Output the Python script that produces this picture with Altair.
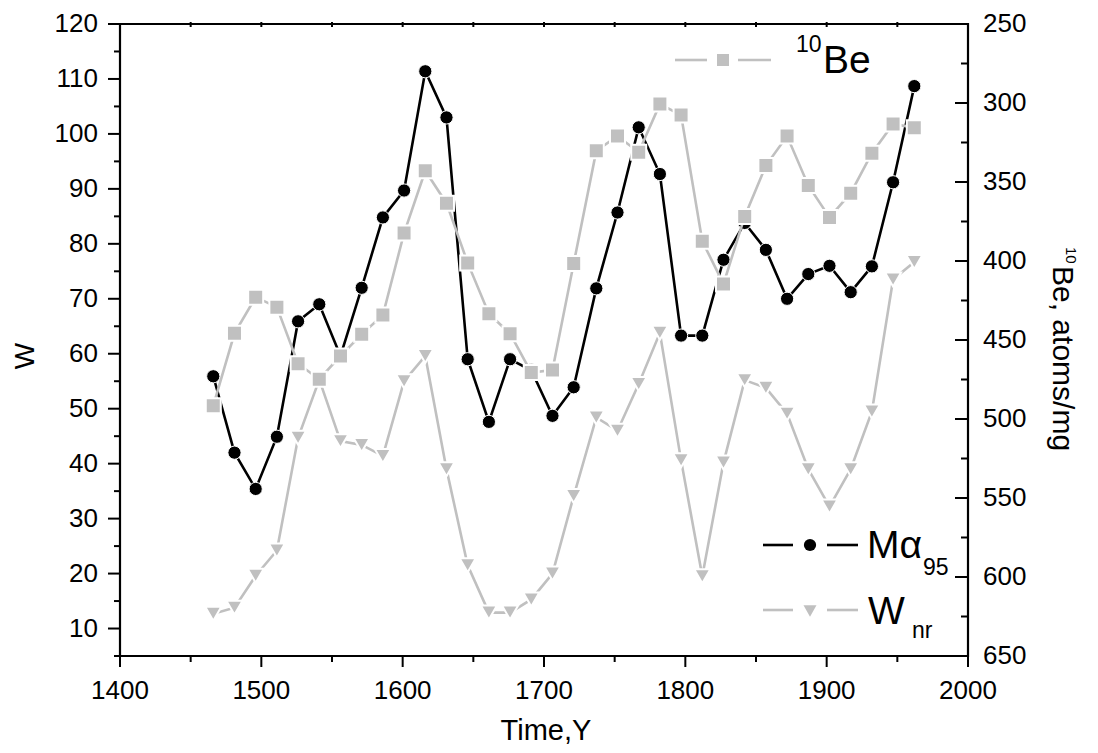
import altair as alt
import pandas as pd

FONT = "Liberation Sans"
GRAY = "#c0c0c0"

# ---- data ----
years = [1466, 1481, 1496, 1511, 1526, 1541, 1556, 1571, 1586, 1601, 1616, 1631,
         1646, 1661, 1676, 1691, 1706, 1721, 1737, 1752, 1767, 1782, 1797, 1812,
         1827, 1842, 1857, 1872, 1887, 1902, 1917, 1932, 1947, 1962]
m_alpha95 = [55.9, 42.0, 35.4, 44.9, 65.9, 69.0, 59.6, 72.0, 84.8, 89.7, 111.4, 103.0,
             59.0, 47.6, 59.0, 57.0, 48.7, 53.9, 71.9, 85.7, 101.2, 92.7, 63.3, 63.3,
             77.1, 83.8, 78.9, 70.0, 74.5, 76.0, 71.2, 75.9, 91.2, 108.7]
w_nr = [12.7, 13.8, 19.6, 24.2, 44.7, 55.3, 44.1, 43.4, 41.4, 55.0, 59.6, 39.0,
        21.5, 12.9, 12.9, 15.3, 20.0, 34.1, 48.4, 46.0, 54.5, 63.8, 40.6, 19.5,
        40.2, 55.2, 53.8, 49.1, 39.0, 32.2, 39.0, 49.5, 73.5, 76.7]
be10 = [491.6, 445.8, 422.9, 429.2, 465.0, 474.8, 460.1, 446.4, 434.2, 382.3, 342.9, 363.4,
        401.2, 433.4, 446.0, 470.6, 469.0, 401.6, 330.3, 320.9, 331.2, 300.7, 307.6, 387.5,
        414.5, 371.8, 339.6, 320.9, 352.2, 372.4, 357.1, 331.8, 313.3, 315.6]

# tick values / tick labels
x_major = [1400, 1500, 1600, 1700, 1800, 1900, 2000]
x_minor = [1450, 1550, 1650, 1750, 1850, 1950]
x_top = [1450, 1500, 1550, 1600, 1650, 1700, 1750, 1800, 1850, 1900, 1950]
w_major = [10, 20, 30, 40, 50, 60, 70, 80, 90, 100, 110, 120]
w_minor = [5, 15, 25, 35, 45, 55, 65, 75, 85, 95, 105, 115]
be_major = [250, 300, 350, 400, 450, 500, 550, 600, 650]
be_minor = [275, 325, 375, 425, 475, 525, 575, 625]

PW, PH = 848, 632
LFS = 26  # tick label font size

df = pd.DataFrame({"year": years, "M": m_alpha95, "W": w_nr, "Be": be10})
one = pd.DataFrame({"k": [0]})

xs = alt.Scale(domain=[1400, 2000], nice=False, zero=False)
ysL = alt.Scale(domain=[5, 120], nice=False, zero=False)
ysR = alt.Scale(domain=[250, 650], reverse=True, nice=False, zero=False)

base = alt.Chart(df)
xN = alt.X("year:Q", scale=xs, axis=None)

# ---- W_nr ----
w_line = base.mark_line(color=GRAY, strokeWidth=2.6).encode(
    x=xN, y=alt.Y("W:Q", scale=ysL, axis=None))
w_pts = base.mark_point(shape="triangle-down", filled=True, size=260, fill=GRAY,
                        stroke="white", strokeWidth=2, opacity=1).encode(
    x=xN, y=alt.Y("W:Q", scale=ysL, axis=None))

# ---- M alpha95 ----
m_line = base.mark_line(color="black", strokeWidth=2.6).encode(
    x=xN, y=alt.Y("M:Q", scale=ysL, axis=None))
m_pts = base.mark_point(shape="circle", filled=True, size=175, fill="black",
                        stroke="white", strokeWidth=1, opacity=1).encode(
    x=xN, y=alt.Y("M:Q", scale=ysL, axis=None))

# ---- ticks and tick labels, placed through the scales ----
def tdf(vals):
    return alt.Chart(pd.DataFrame({"v": vals}))

def xticks(vals, y1, y2):
    return tdf(vals).mark_rule(color="black", strokeWidth=2).encode(
        x=alt.X("v:Q", scale=xs, axis=None), y=alt.value(y1), y2=alt.value(y2))

def lticks(vals, ln):
    return tdf(vals).mark_rule(color="black", strokeWidth=2).encode(
        y=alt.Y("v:Q", scale=ysL, axis=None), x=alt.value(0), x2=alt.value(-ln))

def rticks(vals, ln):
    return tdf(vals).mark_rule(color="black", strokeWidth=2).encode(
        y=alt.Y("v:Q", scale=ysR, axis=None), x=alt.value(PW), x2=alt.value(PW - ln))

x_labels = tdf(x_major).mark_text(font=FONT, fontSize=LFS, color="black", align="center",
                                  baseline="alphabetic").encode(
    x=alt.X("v:Q", scale=xs, axis=None), y=alt.value(PH + 43),
    text=alt.Text("v:Q", format="d"))
l_labels = tdf(w_major).mark_text(font=FONT, fontSize=LFS, color="black", align="right",
                                  baseline="alphabetic", dy=8).encode(
    y=alt.Y("v:Q", scale=ysL, axis=None), x=alt.value(-22),
    text=alt.Text("v:Q", format="d"))
r_labels = tdf(be_major).mark_text(font=FONT, fontSize=LFS, color="black", align="left",
                                   baseline="alphabetic", dy=8).encode(
    y=alt.Y("v:Q", scale=ysR, axis=None), x=alt.value(PW + 15),
    text=alt.Text("v:Q", format="d"))

left_group = alt.layer(
    w_line, w_pts, m_line, m_pts,
    xticks(x_major, PH, PH + 11), xticks(x_minor, PH, PH + 6), xticks(x_top, -2, 3),
    lticks(w_major, 12), lticks(w_minor, 6),
    x_labels, l_labels,
)

# ---- 10Be (right scale, reversed) ----
be_line = base.mark_line(color=GRAY, strokeWidth=2.6).encode(
    x=xN, y=alt.Y("Be:Q", scale=ysR, axis=None))
be_pts = base.mark_point(shape="square", filled=True, size=225, fill=GRAY,
                         stroke="white", strokeWidth=2, opacity=1).encode(
    x=xN, y=alt.Y("Be:Q", scale=ysR, axis=None))

right_group = alt.layer(be_line, be_pts, rticks(be_major, 13), rticks(be_minor, 7), r_labels)

# ---- annotations: titles and legend ----
ann = alt.Chart(one)

def txt(s, x, y, size, angle=0, align="left", baseline="alphabetic"):
    return ann.mark_text(text=s, font=FONT, fontSize=size, color="black", angle=angle,
                         align=align, baseline=baseline).encode(x=alt.value(x), y=alt.value(y))

def seg(x1, x2, y, color):
    return ann.mark_rule(color=color, strokeWidth=2.6).encode(
        x=alt.value(x1), x2=alt.value(x2), y=alt.value(y))

def sym(shape, x, y, color, size):
    return ann.mark_point(shape=shape, filled=True, size=size, fill=color,
                          strokeWidth=0, opacity=1).encode(x=alt.value(x), y=alt.value(y))

annotations = [
    # axis titles
    txt("Time,Y", 426, 716, 29, align="center"),
    txt("W", -86, 332, 28, angle=270, align="center"),
    txt("Be, atoms/mg", 933, 242, 30, angle=90, align="left"),
    txt("10", 946, 223, 15, angle=90, align="left"),
    # 10Be legend
    seg(555, 587, 36, GRAY), sym("square", 603, 36, GRAY, 144), seg(618, 651, 36, GRAY),
    txt("10", 676, 28, 23), txt("Be", 703, 49, 39),
    # M alpha95 legend
    seg(643, 673, 521, "black"), sym("circle", 690, 521, "black", 150), seg(707, 738, 521, "black"),
    txt("M\u03b1", 747, 534, 39), txt("95", 803, 551, 23),
    # W_nr legend
    seg(643, 673, 586, GRAY), sym("triangle-down", 690, 587, GRAY, 170), seg(707, 738, 586, GRAY),
    txt("W", 748, 600, 39), txt("nr", 792, 614, 23),
]

chart = alt.layer(left_group, right_group, *annotations).resolve_scale(
    y="independent"
).properties(
    width=PW, height=PH,
    padding={"left": 112, "top": 16, "right": 120, "bottom": 89},
    autosize=alt.AutoSizeParams(type="none"),
).configure_view(stroke="black", strokeWidth=2.2)

chart.save("out.html", embed_options={"renderer": "svg", "actions": False})
